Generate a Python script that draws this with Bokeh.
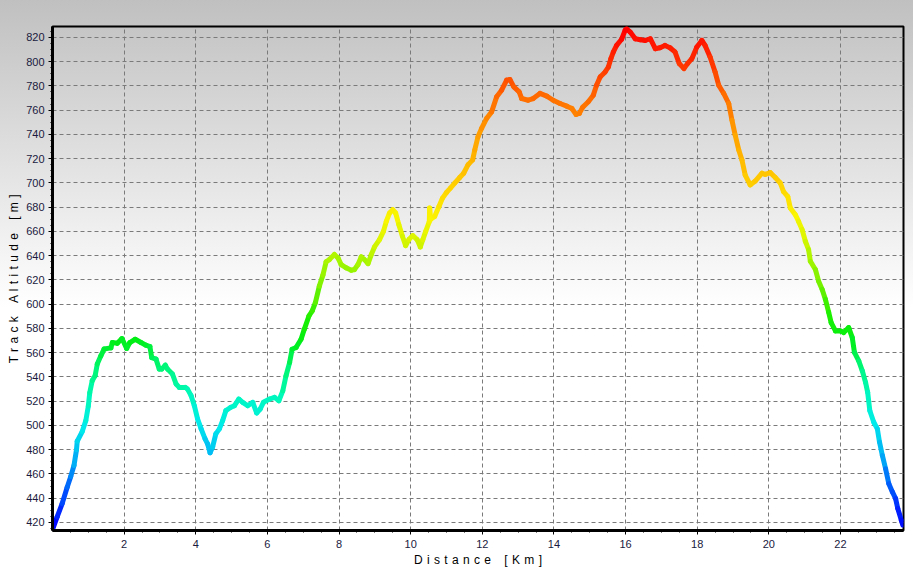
import numpy as np
from bokeh.plotting import figure
from bokeh.models import Range1d, ColumnDataSource, FixedTicker
from bokeh.transform import linear_cmap
from bokeh.embed import file_html
from bokeh.resources import INLINE

# ---- data: distance [km] and altitude [m] ----
distance_km = [
    0.00, 0.13, 0.27, 0.41, 0.51, 0.60, 0.67, 0.69, 0.83, 0.93, 1.00, 1.04, 1.11, 1.19,
    1.25, 1.35, 1.44, 1.63, 1.67, 1.81, 1.94, 2.07, 2.16, 2.31, 2.47, 2.61, 2.72, 2.77,
    2.89, 2.98, 3.05, 3.15, 3.21, 3.35, 3.45, 3.54, 3.71, 3.77, 3.87, 3.96, 4.05, 4.15,
    4.26, 4.33, 4.40, 4.47, 4.56, 4.66, 4.75, 4.84, 4.98, 5.08, 5.20, 5.31, 5.45, 5.59,
    5.70, 5.80, 5.89, 6.06, 6.20, 6.32, 6.43, 6.52, 6.62, 6.69, 6.80, 6.94, 7.03, 7.16,
    7.25, 7.34, 7.45, 7.55, 7.64, 7.73, 7.87, 7.97, 8.06, 8.20, 8.34, 8.43, 8.53, 8.62,
    8.71, 8.81, 8.90, 8.99, 9.13, 9.24, 9.32, 9.41, 9.50, 9.58, 9.67, 9.77, 9.86, 9.95,
    10.06, 10.18, 10.27, 10.34, 10.42, 10.52, 10.53, 10.56, 10.67, 10.79, 10.89, 11.00,
    11.11, 11.23, 11.37, 11.48, 11.60, 11.73, 11.79, 11.88, 11.98, 12.12, 12.26, 12.40,
    12.54, 12.68, 12.77, 12.88, 13.03, 13.10, 13.28, 13.42, 13.61, 13.80, 13.98, 14.17,
    14.36, 14.50, 14.62, 14.71, 14.80, 14.96, 15.10, 15.19, 15.29, 15.43, 15.52, 15.59,
    15.66, 15.75, 15.89, 15.99, 16.03, 16.13, 16.27, 16.41, 16.55, 16.69, 16.83, 16.96,
    17.10, 17.24, 17.38, 17.50, 17.63, 17.73, 17.85, 17.99, 18.13, 18.22, 18.36, 18.50,
    18.60, 18.74, 18.88, 18.97, 19.06, 19.16, 19.25, 19.34, 19.48, 19.62, 19.81, 19.90,
    20.04, 20.18, 20.32, 20.41, 20.53, 20.60, 20.74, 20.83, 20.93, 21.02, 21.11, 21.16,
    21.30, 21.39, 21.49, 21.58, 21.67, 21.74, 21.86, 22.00, 22.09, 22.23, 22.33, 22.39,
    22.51, 22.61, 22.70, 22.76, 22.82, 22.93, 23.03, 23.09, 23.17, 23.26, 23.35, 23.45,
    23.54, 23.60, 23.70, 23.74,
]
altitude_m = [
    414, 424.6, 435.6, 449, 458, 467, 480, 487, 495, 504, 516, 527, 537, 541,
    550.6, 557.4, 563, 564, 568.4, 567.8, 571.7, 563.5, 568.4, 571.1, 568.4, 566.2, 565.1, 556,
    554.7, 546.5, 546.5, 549.8, 546.5, 542.4, 534.2, 531.4, 531.4, 530, 524.6, 516.3, 505.4, 497.2,
    489, 484.9, 477.5, 482.2, 493.1, 497.2, 504, 512.2, 515, 516.3, 521.8, 519.1, 516.3, 519.1,
    510.3, 513.6, 519.1, 521.8, 523.2, 520.4, 528.6, 541, 551.9, 562.9, 564.3, 571.1, 579.3, 590.3,
    594.4, 601.3, 614.9, 624, 635, 636.8, 641, 638.2, 632.7, 630, 628, 628.6, 632.7, 639,
    636.8, 633.5, 640.9, 647.2, 653.3, 660.1, 668.3, 675.2, 677.9, 675.2, 665.6, 656, 648.3, 653.3,
    656.6, 653.3, 647.2, 653.3, 660.1, 668, 679.3, 670, 672.4, 680.6, 687.5, 692.1,
    695.7, 699.8, 704.5, 708, 714.9, 719, 727.2, 738.1, 745, 753.2, 758.6, 771,
    776.5, 784.7, 785.3, 779.2, 775.1, 769.6, 768.2, 769.6, 773.8, 771.6, 768.2, 765.5,
    763.3, 761.4, 756.5, 757.3, 762.3, 766.9, 772.4, 780.6, 787.4, 791.5, 795.6, 802.5,
    808, 813.4, 818.5, 826, 827, 824.4, 818.9, 818.1, 817.5, 818.9, 810.7, 811.5,
    813.4, 811.5, 808, 798.4, 794.3, 798.4, 802.5, 812, 817.5, 813.4, 803.8, 791.5,
    780.6, 773.8, 765.5, 751.8, 739.5, 727.2, 719, 706.5, 698.4, 701.5, 708, 707,
    708.5, 704.5, 700, 692.9, 688.8, 679.3, 673.8, 668.3, 661.5, 651.9, 645, 635.4,
    628.6, 619, 612.2, 604, 593.5, 584.8, 578, 578, 576.6, 580.7, 572.5, 560.2,
    553.3, 545.1, 535.6, 527.3, 512.2, 502.7, 497.2, 486.3, 475.3, 464.3, 452, 445.2,
    439.7, 431.5, 421.9, 418,
]

x_ticks = [2, 4, 6, 8, 10, 12, 14, 16, 18, 20, 22]
y_ticks = list(range(420, 821, 20))
x_title = ["Distance", "[Km]"]
y_title = ["Track", "Altitude", "[m]"]

# ---- colour scale (altitude -> colour) ----
stop_alt = [415, 430, 450, 475, 500, 525, 550, 570, 590, 612, 635, 655, 672, 690, 710, 740, 770, 800, 827]
stop_rgb = [(0, 0, 255), (0, 40, 255), (0, 100, 250), (0, 180, 245), (0, 235, 235), (0, 250, 185),
            (0, 245, 110), (0, 238, 20), (30, 240, 0), (110, 240, 0), (165, 245, 0), (220, 245, 0),
            (250, 245, 0), (255, 220, 0), (255, 195, 0), (255, 160, 0), (255, 110, 0), (255, 50, 0),
            (255, 0, 0)]
low, high = 415.0, 827.0
palette = []
for i in range(256):
    a = low + (high - low) * i / 255.0
    r = int(round(np.interp(a, stop_alt, [c[0] for c in stop_rgb])))
    g = int(round(np.interp(a, stop_alt, [c[1] for c in stop_rgb])))
    b = int(round(np.interp(a, stop_alt, [c[2] for c in stop_rgb])))
    palette.append("#%02x%02x%02x" % (r, g, b))

d = np.array(distance_km, dtype=float)
h = np.array(altitude_m, dtype=float)
src = ColumnDataSource(dict(x0=d[:-1], y0=h[:-1], x1=d[1:], y1=h[1:], ym=(h[:-1] + h[1:]) / 2.0))

p = figure(width=913, height=569, output_backend="svg", toolbar_location=None,
           x_range=Range1d(0, 23.76), y_range=Range1d(413.4, 829))
p.min_border_left = 52
p.min_border_right = 10
p.min_border_top = 26
p.min_border_bottom = 37
p.background_fill_color = None
p.border_fill_color = None
p.styles = {"background": "linear-gradient(to bottom, #c0c0c0 0%, #ffffff 54%, #ffffff 100%)"}
p.outline_line_color = "black"
p.outline_line_width = 2

p.segment(x0="x0", y0="y0", x1="x1", y1="y1", source=src, line_width=5, line_cap="round",
          line_color=linear_cmap("ym", palette, low, high))

label_color = "#1a1a40"
for ax in (p.xaxis[0], p.yaxis[0]):
    ax.axis_line_color = "black"
    ax.axis_line_width = 3
    ax.major_tick_line_color = "black"
    ax.minor_tick_line_color = "black"
    ax.major_tick_in = 0
    ax.major_tick_out = 4
    ax.minor_tick_in = 0
    ax.minor_tick_out = 2
    ax.major_label_text_font = "Liberation Sans"
    ax.major_label_text_font_size = "11px"
    ax.major_label_text_color = label_color
    ax.axis_label_text_font = "Liberation Sans"
    ax.axis_label_text_font_size = "12px"
    ax.axis_label_text_font_style = "normal"
    ax.axis_label_text_color = "black"
    ax.axis_label_standoff = 2

p.xaxis.ticker = FixedTicker(ticks=x_ticks, minor_ticks=[k * 0.5 for k in range(1, 48)])
p.yaxis.ticker = FixedTicker(ticks=y_ticks, minor_ticks=list(range(415, 829, 5)))
p.xaxis.major_label_standoff = 5
p.yaxis.major_label_standoff = 4


def spaced(words):
    sep = " \u200a"
    gap = "\u00a0\u00a0\u00a0\u00a0"
    return gap.join(sep.join(list(w)) for w in words)


p.xaxis.axis_label = spaced(x_title)
p.yaxis.axis_label = spaced(y_title)

for g in (p.xgrid[0], p.ygrid[0]):
    g.grid_line_color = "#7a7a7a"
    g.grid_line_width = 1
    g.grid_line_dash = "4 3"

open("out.html", "w").write(file_html(p, INLINE))
